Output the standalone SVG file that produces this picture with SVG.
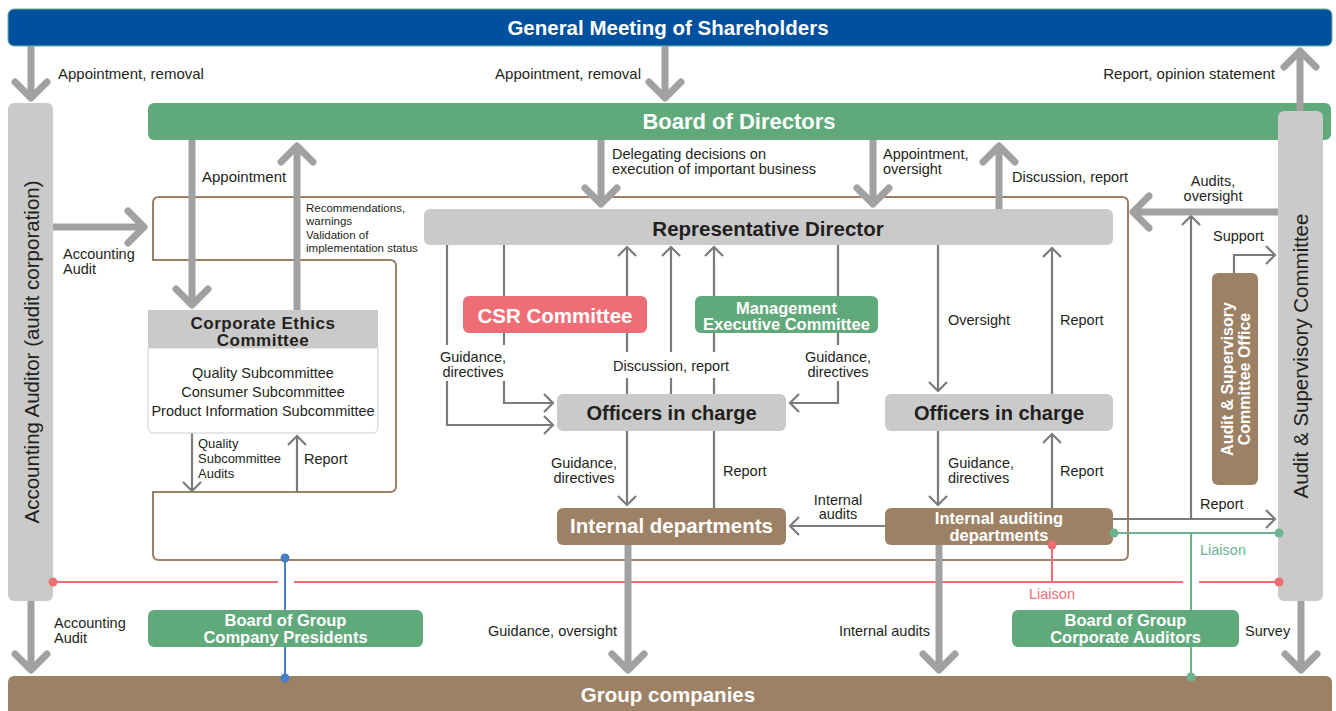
<svg xmlns="http://www.w3.org/2000/svg" width="1336" height="711" viewBox="0 0 1336 711">
<style>
text{font-family:"Liberation Sans",Arial,sans-serif;fill:#231f20}
.b{font-weight:bold}
.w{fill:#fff}
.l{font-size:14.5px}
.t{font-size:15px}
.s{font-size:11.5px}
.thick{fill:none;stroke:#a0a1a0;stroke-width:7;stroke-linecap:butt}
.head{fill:none;stroke:#a0a1a0;stroke-width:7;stroke-linecap:round;stroke-linejoin:round}
.thin{fill:none;stroke:#7b7b7b;stroke-width:2.2}
.blue{fill:#0050a0}
.green{fill:#5fa97a}
.gray{fill:#c9cac9}
.brown{fill:#9d8165}
.pink{fill:#ef6e76}
.bg{fill:#fff}
</style>

<!-- frame -->
<path id="frame" d="M153,260 V203 Q153,197 159,197 H1122 Q1128,197 1128,203 V554 Q1128,560 1122,560 H159 Q153,560 153,554 V492 H390 Q396,492 396,486 V266 Q396,260 390,260 Z" fill="none" stroke="#9d8165" stroke-width="2"/>

<g id="gms"><rect x="8" y="9" width="1324" height="37" rx="6" class="blue" stroke="#6db38f" stroke-width="1"/><text x="668" y="35" text-anchor="middle" class="b w" font-size="20.5">General Meeting of Shareholders</text></g>
<g id="board"><rect x="148" y="103" width="1183" height="37" rx="6" class="green"/><text x="739" y="128.5" text-anchor="middle" class="b w" font-size="22">Board of Directors</text></g>
<g id="group"><rect x="8" y="676" width="1324" height="45" rx="6" class="brown"/><text x="668" y="702" text-anchor="middle" class="b w" font-size="20.5">Group companies</text></g>
<g id="auditor"><rect x="8" y="103" width="45" height="498" rx="6" class="gray"/><text transform="translate(38.5,352) rotate(-90)" text-anchor="middle" font-size="20.5">Accounting Auditor (audit corporation)</text></g>
<g id="asc"><rect x="1278" y="111" width="45" height="490" rx="6" class="gray"/><text transform="translate(1307.5,356) rotate(-90)" text-anchor="middle" font-size="20.5">Audit &amp; Supervisory Committee</text></g>

<!-- connectors -->
<g id="connectors">
 <path class="thin" d="M447,245 V425 H553 M544,416 L553,425 L544,434"/>
 <path class="thin" d="M504,245 V403 H553 M544,394 L553,403 L544,412"/>
 <path class="thin" d="M627,394 V247 M618,256 L627,247 L636,256"/>
 <path class="thin" d="M671,394 V247 M662,256 L671,247 L680,256"/>
 <path class="thin" d="M714,394 V247 M705,256 L714,247 L723,256"/>
 <path class="thin" d="M838,245 V403 H790 M799,394 L790,403 L799,412"/>
 <path class="thin" d="M627,431 V505 M618,496 L627,505 L636,496"/>
 <path class="thin" d="M714,508 V431"/>
 <path class="thin" d="M938,245 V391 M929,382 L938,391 L947,382"/>
 <path class="thin" d="M1052,394 V248 M1043,257 L1052,248 L1061,257"/>
 <path class="thin" d="M938,431 V505 M929,496 L938,505 L947,496"/>
 <path class="thin" d="M1052,508 V434 M1043,443 L1052,434 L1061,443"/>
 <path class="thin" d="M885,526 H790 M799,517 L790,526 L799,535"/>
 <path class="thin" d="M1113,519 H1275 M1266,510 L1275,519 L1266,528"/>
 <path class="thin" d="M1191,519 V216 M1182,225 L1191,216 L1200,225"/>
 <path class="thin" d="M1234,273 V255 H1275 M1266,246 L1275,255 L1266,264"/>
 <path class="thin" d="M192,433 V491 M183,482 L192,491 L201,482"/>
 <path class="thin" d="M297,492 V436 M288,445 L297,436 L306,445"/>

 <path d="M53,582 H278 M294,582 H1183 M1199,582 H1279" stroke="#ef6e76" stroke-width="2" fill="none"/>
 <path d="M1052,545 V582" stroke="#ef6e76" stroke-width="2"/>
 <path d="M1114,533 H1279 M1191,533 V677" stroke="#6db38f" stroke-width="2" fill="none"/>
 <path d="M285,558 V678" stroke="#4a7fc4" stroke-width="2"/>

 <path class="thick" d="M31,46 V97"/><path class="head" d="M15,82 L31,98 L47,82"/>
 <path class="thick" d="M665,46 V97"/><path class="head" d="M649,82 L665,98 L681,82"/>
 <path class="thick" d="M1300,111 V52"/><path class="head" d="M1284,67 L1300,51 L1316,67"/>
 <path class="thick" d="M192,140 V304"/><path class="head" d="M176,289 L192,305 L208,289"/>
 <path class="thick" d="M297,310 V147"/><path class="head" d="M281,162 L297,146 L313,162"/>
 <path class="thick" d="M53,227 H143"/><path class="head" d="M128,211 L144,227 L128,243"/>
 <path class="thick" d="M601,140 V203"/><path class="head" d="M585,188 L601,204 L617,188"/>
 <path class="thick" d="M873,140 V203"/><path class="head" d="M857,188 L873,204 L889,188"/>
 <path class="thick" d="M999,209 V147"/><path class="head" d="M983,162 L999,146 L1015,162"/>
 <path class="thick" d="M1278,212 H1134"/><path class="head" d="M1149,196 L1133,212 L1149,228"/>
 <path class="thick" d="M31,601 V669"/><path class="head" d="M15,654 L31,670 L47,654"/>
 <path class="thick" d="M628,545 V669"/><path class="head" d="M612,654 L628,670 L644,654"/>
 <path class="thick" d="M939,545 V669"/><path class="head" d="M923,654 L939,670 L955,654"/>
 <path class="thick" d="M1301,601 V669"/><path class="head" d="M1285,654 L1301,670 L1317,654"/>
</g>

<!-- nodes -->
<g id="repdir"><rect x="424" y="209" width="689" height="36" rx="6" class="gray"/><text x="768" y="236" text-anchor="middle" class="b" font-size="20.5">Representative Director</text></g>
<g id="csr"><rect x="463" y="296" width="184" height="37" rx="6" class="pink"/><text x="555" y="323" text-anchor="middle" class="b w" font-size="20.5">CSR Committee</text></g>
<g id="mgmt"><rect x="695" y="296" width="183" height="37" rx="6" class="green"/><text x="786.5" y="314" text-anchor="middle" class="b w" font-size="16.5">Management</text><text x="786.5" y="330" text-anchor="middle" class="b w" font-size="16.5">Executive Committee</text></g>
<g id="officersL"><rect x="557" y="394" width="229" height="37" rx="6" class="gray"/><text x="671.5" y="420" text-anchor="middle" class="b" font-size="20">Officers in charge</text></g>
<g id="officersR"><rect x="885" y="394" width="228" height="37" rx="6" class="gray"/><text x="999" y="420" text-anchor="middle" class="b" font-size="20">Officers in charge</text></g>
<g id="internal"><rect x="557" y="508" width="229" height="37" rx="6" class="brown"/><text x="671.5" y="533" text-anchor="middle" class="b w" font-size="20.5">Internal departments</text></g>
<g id="internalaudit"><rect x="885" y="508" width="228" height="37" rx="6" class="brown"/><text x="999" y="524" text-anchor="middle" class="b w" font-size="16.5">Internal auditing</text><text x="999" y="541" text-anchor="middle" class="b w" font-size="16.5">departments</text></g>
<g id="ethics">
 <path d="M148,348 H378 V427 Q378,433 372,433 H154 Q148,433 148,427 Z" fill="#fff" stroke="#cfcfcf" stroke-width="1"/>
 <rect x="148" y="310" width="230" height="38" class="gray"/>
 <text x="263" y="329" text-anchor="middle" class="b" font-size="17" letter-spacing="0.5">Corporate Ethics</text>
 <text x="263" y="346" text-anchor="middle" class="b" font-size="17" letter-spacing="0.5">Committee</text>
 <text x="263" y="378" text-anchor="middle" class="l">Quality Subcommittee</text>
 <text x="263" y="397" text-anchor="middle" class="l">Consumer Subcommittee</text>
 <text x="263" y="416" text-anchor="middle" class="l">Product Information Subcommittee</text>
</g>
<g id="ascoffice"><rect x="1212" y="273" width="46" height="212" rx="6" class="brown"/><text transform="translate(1233,379) rotate(-90)" text-anchor="middle" class="b w" font-size="16">Audit &amp; Supervisory</text><text transform="translate(1250,379) rotate(-90)" text-anchor="middle" class="b w" font-size="16">Committee Office</text></g>
<g id="presidents"><rect x="148" y="610" width="275" height="37" rx="6" class="green"/><text x="285.5" y="626" text-anchor="middle" class="b w" font-size="16.5">Board of Group</text><text x="285.5" y="643" text-anchor="middle" class="b w" font-size="16.5">Company Presidents</text></g>
<g id="groupauditors"><rect x="1012" y="610" width="227" height="37" rx="6" class="green"/><text x="1125.5" y="626" text-anchor="middle" class="b w" font-size="16.5">Board of Group</text><text x="1125.5" y="643" text-anchor="middle" class="b w" font-size="16.5">Corporate Auditors</text></g>

<!-- liaison end dots -->
<g id="connector-dots">
 <circle cx="53" cy="582" r="4.5" class="pink"/>
 <circle cx="1279" cy="582" r="4.5" class="pink"/>
 <circle cx="1052" cy="545" r="4.5" class="pink"/>
 <circle cx="1114" cy="533" r="4.5" fill="#6db38f"/>
 <circle cx="1279" cy="533" r="4.5" fill="#6db38f"/>
 <circle cx="1191" cy="677" r="4.5" fill="#6db38f"/>
 <circle cx="285" cy="558" r="4.5" fill="#4a7fc4"/>
 <circle cx="285" cy="678" r="4.5" fill="#4a7fc4"/>
</g>

<!-- labels -->
<g id="labels">
 <text x="58" y="79" class="t">Appointment, removal</text>
 <text x="641" y="79" text-anchor="end" class="t">Appointment, removal</text>
 <text x="1275" y="79" text-anchor="end" class="t">Report, opinion statement</text>
 <text x="202" y="182" class="t">Appointment</text>
 <text x="306" y="212" class="s">Recommendations,</text>
 <text x="306" y="225" class="s">warnings</text>
 <text x="306" y="239" class="s">Validation of</text>
 <text x="306" y="252" class="s">implementation status</text>
 <text x="63" y="259" class="l">Accounting</text>
 <text x="63" y="274" class="l">Audit</text>
 <text x="612" y="159" class="l">Delegating decisions on</text>
 <text x="612" y="174" class="l">execution of important business</text>
 <text x="883" y="159" class="l">Appointment,</text>
 <text x="883" y="174" class="l">oversight</text>
 <text x="1012" y="182" class="l">Discussion, report</text>
 <text x="1213" y="186" text-anchor="middle" class="l">Audits,</text>
 <text x="1213" y="201" text-anchor="middle" class="l">oversight</text>
 <text x="1213" y="241" class="l">Support</text>
 <rect x="438" y="345" width="72" height="36" class="bg"/>
 <text x="473" y="362" text-anchor="middle" class="l">Guidance,</text>
 <text x="473" y="377" text-anchor="middle" class="l">directives</text>
 <rect x="608" y="352" width="126" height="26" class="bg"/>
 <text x="671" y="371" text-anchor="middle" class="l">Discussion, report</text>
 <rect x="803" y="345" width="72" height="36" class="bg"/>
 <text x="838" y="362" text-anchor="middle" class="l">Guidance,</text>
 <text x="838" y="377" text-anchor="middle" class="l">directives</text>
 <text x="948" y="325" class="l">Oversight</text>
 <text x="1060" y="325" class="l">Report</text>
 <text x="584" y="468" text-anchor="middle" class="l">Guidance,</text>
 <text x="584" y="483" text-anchor="middle" class="l">directives</text>
 <text x="723" y="476" class="l">Report</text>
 <text x="948" y="468" class="l">Guidance,</text>
 <text x="948" y="483" class="l">directives</text>
 <text x="1060" y="476" class="l">Report</text>
 <text x="838" y="505" text-anchor="middle" class="l">Internal</text>
 <text x="838" y="519" text-anchor="middle" class="l">audits</text>
 <text x="1200" y="509" class="l">Report</text>
 <text x="198" y="448" font-size="13">Quality</text>
 <text x="198" y="463" font-size="13">Subcommittee</text>
 <text x="198" y="478" font-size="13">Audits</text>
 <text x="304" y="464" class="l">Report</text>
 <text x="54" y="628" class="l">Accounting</text>
 <text x="54" y="643" class="l">Audit</text>
 <text x="617" y="636" text-anchor="end" class="l">Guidance, oversight</text>
 <text x="930" y="636" text-anchor="end" class="l">Internal audits</text>
 <text x="1245" y="636" class="l">Survey</text>
 <text x="1052" y="599" text-anchor="middle" class="l" style="fill:#ef6e76">Liaison</text>
 <text x="1200" y="555" class="l" style="fill:#6db38f">Liaison</text>
</g>
</svg>
